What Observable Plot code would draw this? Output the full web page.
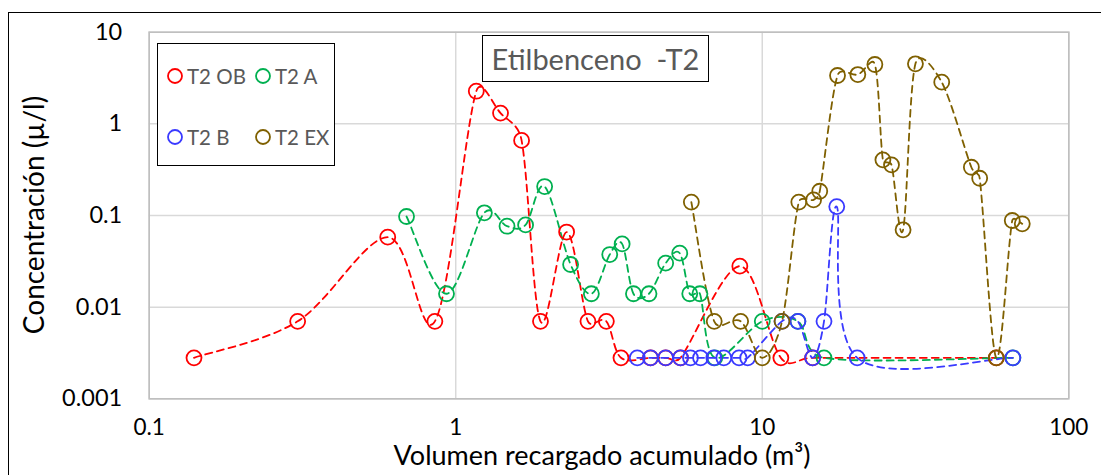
<!DOCTYPE html>
<html><head><meta charset="utf-8">
<script src="https://cdn.jsdelivr.net/npm/d3@7"></script>
<script src="https://cdn.jsdelivr.net/npm/@observablehq/plot@0.6"></script>
<style>
html,body{margin:0;padding:0;background:#fff;overflow:hidden;width:1101px;height:475px;}
#wrap{position:relative;width:1101px;height:475px;font-family:Lato, sans-serif;overflow:hidden;}
#border{position:absolute;left:7.5px;top:12px;width:1200px;height:600px;border:1.5px solid #000;}
#chart{position:absolute;left:0;top:0;}
#title{position:absolute;left:482px;top:35px;width:225px;height:45px;border:1.6px solid #000;background:#fff;color:#595959;font-size:29px;display:flex;align-items:center;justify-content:center;white-space:pre;}
#legend{position:absolute;left:157px;top:43px;width:176px;height:121px;border:1.6px solid #000;background:#fff;}
.li{position:absolute;color:#595959;font-size:20.5px;line-height:20px;white-space:nowrap;display:flex;align-items:center;}
.li svg{margin-right:3px;}
#ylab{position:absolute;left:33px;top:215px;transform:translate(-50%,-50%) rotate(-90deg);font-size:28px;color:#000;white-space:nowrap;line-height:28px;}
</style>
</head><body>
<div id="wrap">
  <div id="border"></div>
  <div id="chart"></div>
  <div id="ylab"></div>
  <div id="title"></div>
  <div id="legend"></div>
</div>
<script>
// ---- data ----
const seriesNames = ["T2 OB", "T2 A", "T2 B", "T2 EX"];
const seriesColors = ["#FF0000", "#00B050", "#3A3AFF", "#7F6000"];

const obX = [0.14, 0.305, 0.60, 0.855, 1.167, 1.40, 1.64, 1.89, 2.30, 2.70, 3.10, 3.46, 4.32, 4.84, 5.41, 8.45, 11.5, 14.6, 58];
const obY = [0.0028, 0.007, 0.058, 0.007, 2.27, 1.31, 0.66, 0.007, 0.066, 0.007, 0.007, 0.0028, 0.0028, 0.0028, 0.0028, 0.028, 0.0028, 0.0028, 0.0028];

const aX = [0.691, 0.933, 1.24, 1.47, 1.69, 1.95, 2.37, 2.77, 3.18, 3.49, 3.80, 4.27, 4.84, 5.38, 5.80, 6.26, 7.0, 10.0, 13.07, 15.9, 65.7];
const aY = [0.0975, 0.014, 0.107, 0.0764, 0.079, 0.207, 0.0292, 0.014, 0.0375, 0.049, 0.014, 0.014, 0.0302, 0.0388, 0.014, 0.014, 0.0028, 0.007, 0.007, 0.0028, 0.0028];

const bX = [3.91, 4.32, 4.84, 5.41, 5.83, 6.29, 6.95, 7.49, 8.4, 8.96, 11.6, 13.07, 14.6, 15.9, 17.5, 20.4, 65.7];
const bY = [0.0028, 0.0028, 0.0028, 0.0028, 0.0028, 0.0028, 0.0028, 0.0028, 0.0028, 0.0028, 0.007, 0.007, 0.0028, 0.007, 0.125, 0.0028, 0.0028];

const exX = [5.87, 6.97, 8.50, 10.0, 11.6, 13.16, 14.7, 15.4, 17.6, 20.5, 23.3, 24.75, 26.4, 28.8, 31.6, 38.5, 48.1, 51.2, 58, 65.4, 70.5];
const exY = [0.14, 0.007, 0.007, 0.0028, 0.007, 0.14, 0.148, 0.184, 3.37, 3.45, 4.44, 0.405, 0.357, 0.0698, 4.52, 2.85, 0.336, 0.255, 0.0028, 0.0882, 0.0812];

const xTicks = [0.1, 1, 10, 100];
const yTicks = [0.001, 0.01, 0.1, 1, 10];

const titleText = "Etilbenceno  -T2";
const xLabel = "Volumen recargado acumulado (m³)";
const yLabel = "Concentración (µ/l)";

// ---- Excel-style smoothed line (Bezier, tension 1/6, arm clamped to half the segment) ----
function ExcelCurve(context) { this._context = context; }
ExcelCurve.prototype = {
  areaStart() {}, areaEnd() {},
  lineStart() { this._pts = []; },
  point(x, y) { this._pts.push([+x, +y]); },
  lineEnd() {
    const p = this._pts, c = this._context, n = p.length;
    if (!n) return;
    c.moveTo(p[0][0], p[0][1]);
    for (let i = 0; i < n - 1; i++) {
      const p0 = p[Math.max(i - 1, 0)], p1 = p[i], p2 = p[i + 1], p3 = p[Math.min(i + 2, n - 1)];
      const d02 = Math.hypot(p2[0] - p0[0], p2[1] - p0[1]);
      const d12 = Math.hypot(p2[0] - p1[0], p2[1] - p1[1]);
      const d13 = Math.hypot(p3[0] - p1[0], p3[1] - p1[1]);
      const f1 = d02 > 0 ? Math.min(1 / 6, d12 / (2 * d02)) : 0;
      const f2 = d13 > 0 ? Math.min(1 / 6, d12 / (2 * d13)) : 0;
      c.bezierCurveTo(
        p1[0] + f1 * (p2[0] - p0[0]), p1[1] + f1 * (p2[1] - p0[1]),
        p2[0] - f2 * (p3[0] - p1[0]), p2[1] - f2 * (p3[1] - p1[1]),
        p2[0], p2[1]);
    }
  }
};
const curveExcel = (ctx) => new ExcelCurve(ctx);

// ---- build ----
const seriesXY = [[obX, obY], [aX, aY], [bX, bY], [exX, exY]];
const data = seriesXY.map(([xs, ys], k) => xs.map((x, i) => ({x, y: ys[i], s: seriesNames[k]})));

const seriesMarks = [];
data.forEach((d, k) => {
  seriesMarks.push(Plot.line(d, {x: "x", y: "y", stroke: seriesColors[k], strokeWidth: 1.8, strokeDasharray: "7,5", curve: curveExcel}));
});
data.forEach((d, k) => {
  seriesMarks.push(Plot.dot(d, {x: "x", y: "y", r: 7.5, stroke: seriesColors[k], strokeWidth: 1.8, fill: "none"}));
});

const chart = Plot.plot({
  width: 1101, height: 475,
  marginLeft: 148.7, marginRight: 32.7, marginTop: 31.7, marginBottom: 76.7,
  style: {fontFamily: "Lato, sans-serif", background: "transparent", color: "#000", overflow: "visible"},
  x: {type: "log", domain: [0.1, 100]},
  y: {type: "log", domain: [0.001, 10]},
  marks: [
    Plot.gridX(xTicks, {stroke: "#d9d9d9", strokeOpacity: 1, strokeWidth: 1.5}),
    Plot.gridY(yTicks, {stroke: "#d9d9d9", strokeOpacity: 1, strokeWidth: 1.5}),
    Plot.frame({stroke: "#bfbfbf", strokeWidth: 1.6}),
    Plot.axisX(xTicks, {tickSize: 0, tickPadding: 20, fontSize: 22.5, tickFormat: d => String(d), label: null, fill: "#000"}),
    Plot.axisY(yTicks, {tickSize: 0, tickPadding: 27, fontSize: 23.5, tickFormat: d => String(d), label: null, fill: "#000"}),
    Plot.text([xLabel], {frameAnchor: "bottom", text: d => d, dy: 66, dx: -7, fontSize: 27, fill: "#000"}),
    ...seriesMarks
  ]
});
document.getElementById("chart").appendChild(chart);

document.getElementById("title").textContent = titleText;
document.getElementById("ylab").textContent = yLabel;

const legend = document.getElementById("legend");
const pos = [[8, 22], [96, 22], [8, 83], [96, 83]];
seriesNames.forEach((name, k) => {
  const el = document.createElement("div");
  el.className = "li";
  el.style.left = pos[k][0] + "px";
  el.style.top = pos[k][1] + "px";
  el.innerHTML = `<svg width="18" height="18"><circle cx="9" cy="9" r="7" fill="none" stroke="${seriesColors[k]}" stroke-width="1.8"/></svg><span></span>`;
  el.querySelector("span").textContent = name;
  legend.appendChild(el);
});
</script>
</body></html>
